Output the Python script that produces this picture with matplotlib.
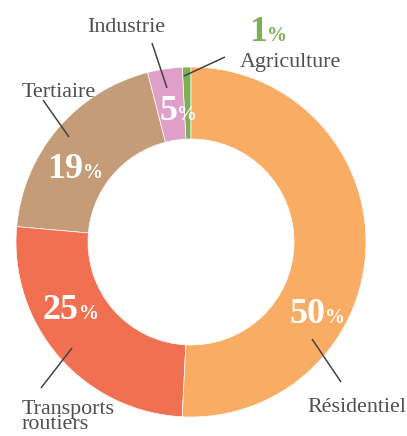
import matplotlib
matplotlib.use("Agg")
import matplotlib.pyplot as plt

# Data (counter-clockwise from top)
categories = ["Agriculture", "Industrie", "Tertiaire", "Transports\nroutiers", "Résidentiel"]
values = [0.8, 3.2, 19.6, 25.6, 50.8]
pct_labels = ["1", "5", "19", "25", "50"]
colors = ["#7BB150", "#E09FC8", "#C59C78", "#F27052", "#F9AD64"]

W, H = 407, 436
fig = plt.figure(figsize=(W / 100, H / 100), dpi=100)
ax = fig.add_axes([0, 0, 1, 1])
ax.set_xlim(0, W)
ax.set_ylim(0, H)
ax.set_aspect("equal")
ax.axis("off")

def Y(y):
    return H - y

cx, cy, R, inner = 191, Y(242), 175, 103
ax.pie(values, colors=colors, startangle=90, counterclock=True,
       center=(cx, cy), radius=R,
       wedgeprops=dict(width=R - inner, edgecolor="white", linewidth=0.5))
ax.set_xlim(0, W)
ax.set_ylim(0, H)

serif = ["Liberation Serif", "DejaVu Serif"]
px = 72 / 100  # pixel -> points

# percentage labels: (x split between digits and %, baseline y, colour)
pct_pos = {
    "1": (267, 41, "#7BB150"),
    "5": (177, 120, "white"),
    "19": (83, 178, "white"),
    "25": (79, 319, "white"),
    "50": (325, 323, "white"),
}
for p in pct_labels:
    x, y, c = pct_pos[p]
    ax.text(x, Y(y), p, ha="right", va="baseline", fontsize=36 * px,
            fontweight="bold", color=c, family=serif)
    ax.text(x, Y(y), "%", ha="left", va="baseline", fontsize=20 * px,
            fontweight="bold", color=c, family=serif)

# category labels
lab_pos = {
    "Industrie": (87, 32, "left"),
    "Agriculture": (240, 67, "left"),
    "Tertiaire": (22, 97, "left"),
    "Transports\nroutiers": (22, 400, "left"),
    "Résidentiel": (406, 412, "right"),
}
txt_col = "#4F4F4F"
for cat in categories:
    x, y, ha = lab_pos[cat]
    if "\n" in cat:
        ax.text(x, Y(y), cat, ha=ha, va="top", fontsize=22 * px,
                color=txt_col, family=serif, linespacing=0.72,
                multialignment="left")
    else:
        ax.text(x, Y(y), cat, ha=ha, va="baseline", fontsize=22 * px,
                color=txt_col, family=serif)

# leader lines
leaders = [
    ((152, 43), (167, 88)),
    ((225, 57), (184, 76)),
    ((43, 100), (69, 137)),
    ((41, 388), (72, 348)),
    ((312, 339), (341, 382)),
]
for (x1, y1), (x2, y2) in leaders:
    ax.plot([x1, x2], [Y(y1), Y(y2)], color="#444444", lw=1.1,
            solid_capstyle="butt")

fig.savefig("out.png", dpi=100, facecolor="white")
